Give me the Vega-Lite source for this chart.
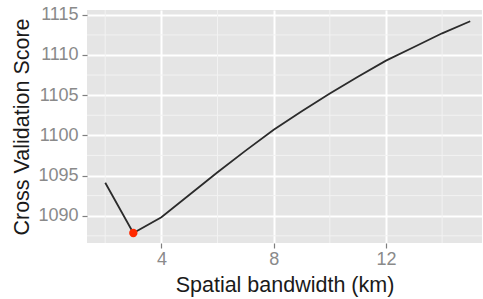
{
  "$schema": "https://vega.github.io/schema/vega-lite/v6.json",
  "width": 395,
  "height": 233,
  "autosize": {"type": "none"},
  "padding": {"left": 87, "top": 10, "right": 1, "bottom": 56},
  "background": "white",
  "config": {
    "view": {"fill": "#E5E5E5", "stroke": null},
    "font": "Liberation Sans"
  },
  "data": {
    "values": [
      {"bw": 2, "cv": 1094.1},
      {"bw": 3, "cv": 1087.85},
      {"bw": 4, "cv": 1089.8},
      {"bw": 5, "cv": 1092.6},
      {"bw": 6, "cv": 1095.4},
      {"bw": 7, "cv": 1098.1},
      {"bw": 8, "cv": 1100.7},
      {"bw": 9, "cv": 1103.0},
      {"bw": 10, "cv": 1105.2},
      {"bw": 11, "cv": 1107.3},
      {"bw": 12, "cv": 1109.3},
      {"bw": 13, "cv": 1111.0},
      {"bw": 14, "cv": 1112.7},
      {"bw": 15, "cv": 1114.2}
    ]
  },
  "layer": [
    {
      "mark": {"type": "rule", "stroke": "#F2F2F2", "strokeWidth": 1},
      "data": {"values": [{"v": 2}, {"v": 6}, {"v": 10}, {"v": 14}]},
      "encoding": {"x": {
        "field": "v", "type": "quantitative",
        "scale": {"domain": [1.35, 15.42], "nice": false, "zero": false},
        "axis": {
          "title": "Spatial bandwidth (km)",
          "values": [4, 8, 12],
          "grid": true, "gridColor": "white", "gridWidth": 2,
          "domain": false,
          "tickColor": "#7F7F7F", "tickSize": 5, "tickWidth": 1.2,
          "labelColor": "#8A8A8A", "labelFontSize": 18, "labelPadding": 2,
          "titleFontSize": 21.5, "titleFontWeight": "normal", "titleColor": "#1a1a1a", "titlePadding": 6
        }
      }}
    },
    {
      "mark": {"type": "rule", "stroke": "#F2F2F2", "strokeWidth": 1},
      "data": {"values": [{"v": 1087.5}, {"v": 1092.5}, {"v": 1097.5}, {"v": 1102.5}, {"v": 1107.5}, {"v": 1112.5}]},
      "encoding": {"y": {
        "field": "v", "type": "quantitative",
        "scale": {"domain": [1086.6, 1115.6], "nice": false, "zero": false},
        "axis": {
          "title": "Cross Validation Score",
          "format": "d",
          "values": [1090, 1095, 1100, 1105, 1110, 1115],
          "grid": true, "gridColor": "white", "gridWidth": 2,
          "domain": false,
          "tickColor": "#7F7F7F", "tickSize": 5, "tickWidth": 1.2,
          "labelColor": "#8A8A8A", "labelFontSize": 18, "labelPadding": 4,
          "titleFontSize": 21.5, "titleFontWeight": "normal", "titleColor": "#1a1a1a", "titlePadding": 4
        }
      }}
    },
    {
      "mark": {"type": "line", "color": "#2b2b2b", "strokeWidth": 1.8},
      "encoding": {
        "x": {"field": "bw", "type": "quantitative"},
        "y": {"field": "cv", "type": "quantitative"}
      }
    },
    {
      "mark": {"type": "point", "filled": true, "color": "#FF2A00", "size": 70, "opacity": 1},
      "transform": [{"filter": "datum.bw == 3"}],
      "encoding": {
        "x": {"field": "bw", "type": "quantitative"},
        "y": {"field": "cv", "type": "quantitative"}
      }
    }
  ]
}
